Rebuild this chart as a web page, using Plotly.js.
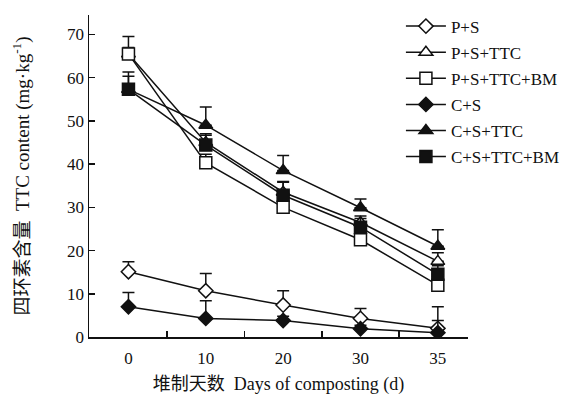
<!DOCTYPE html>
<html>
<head>
<meta charset="utf-8">
<script src="https://cdn.plot.ly/plotly-3.0.1.min.js"></script>
<style>html,body{margin:0;padding:0;background:#fff;}#chart{width:569px;height:407px;}</style>
</head>
<body>
<div id="chart"></div>
<script>
const days = ['0', '10', '20', '30', '35'];
const seriesNames = ['P+S', 'P+S+TTC', 'P+S+TTC+BM', 'C+S', 'C+S+TTC', 'C+S+TTC+BM'];
const ps = [15.1, 10.7, 7.4, 4.3, 2.0];
const psErr = [2.3, 4.0, 3.3, 2.3, 5.0];
const psTtc = [65.5, 45.0, 33.5, 26.5, 17.5];
const psTtcErr = [4.0, 2.0, 2.5, 1.5, 2.0];
const psTtcBm = [65.5, 40.3, 30.0, 22.5, 12.0];
const psTtcBmErr = [1.5, 2.0, 2.0, 1.5, 2.0];
const cs = [7.0, 4.3, 3.8, 1.9, 1.0];
const csErr = [3.3, 4.1, 1.0, 0.8, 2.8];
const csTtc = [57.3, 49.0, 38.5, 29.9, 21.0];
const csTtcErr = [4.0, 4.2, 3.5, 2.0, 3.8];
const csTtcBm = [57.3, 44.4, 32.8, 25.4, 14.5];
const csTtcBmErr = [3.0, 2.3, 3.0, 2.0, 2.0];

const values = [ps, psTtc, psTtcBm, cs, csTtc, csTtcBm];
const errs = [psErr, psTtcErr, psTtcBmErr, csErr, csTtcErr, csTtcBmErr];
const symbols = ['diamond', 'triangle-up', 'square', 'diamond', 'triangle-up', 'square'];
const fills = ['#ffffff', '#ffffff', '#ffffff', '#111111', '#111111', '#111111'];
const sizes = [11, 12, 12, 11, 12, 12];

const traces = values.map((v, i) => ({
  x: days,
  y: v,
  name: seriesNames[i],
  legendgroup: 'g' + i,
  type: 'scatter',
  mode: 'lines+markers',
  line: {color: '#111', width: 1.5},
  marker: {symbol: symbols[i], size: sizes[i], color: fills[i], line: {color: '#111', width: 1.5}},
  error_y: {type: 'data', array: errs[i], arrayminus: v.map(() => 0), symmetric: false,
            color: '#111', thickness: 1.5, width: 6}
}));

const fam = '"Liberation Serif", "Times New Roman", "Noto Sans CJK SC", serif';
const tickFont = {family: fam, size: 17, color: '#111'};
const titleFont = {family: fam, size: 18, color: '#111'};
const yTitleFont = {family: fam, size: 19, color: '#111'};

const layout = {
  width: 569, height: 407,
  margin: {l: 89, r: 101, t: 15, b: 70, autoexpand: false},
  paper_bgcolor: '#fff', plot_bgcolor: '#fff',
  font: tickFont,
  showlegend: true,
  legend: {x: 0.823, y: 1.02, xanchor: 'left', yanchor: 'top', bgcolor: 'rgba(0,0,0,0)',
           traceorder: 'grouped', tracegroupgap: 1, itemwidth: 40, font: tickFont},
  xaxis: {
    type: 'category', range: [-0.51, 4.39], tickson: 'boundaries',
    showline: true, linecolor: '#111', linewidth: 1.5, mirror: false,
    ticks: 'inside', ticklen: 6, tickwidth: 1.5, tickcolor: '#111',
    ticklabelstandoff: 5, automargin: false,
    showgrid: false, zeroline: false, tickfont: tickFont,
    title: {text: '堆制天数  Days of composting (d)', font: titleFont, standoff: 10}
  },
  yaxis: {
    range: [0, 74.5], dtick: 10, tick0: 0,
    showline: true, linecolor: '#111', linewidth: 1.5,
    ticks: 'inside', ticklen: 6, tickwidth: 1.5, tickcolor: '#111',
    automargin: false,
    showgrid: false, zeroline: false, tickfont: tickFont,
    title: {text: '四环素含量  TTC content (mg·kg<sup>-1</sup>)', font: yTitleFont, standoff: 32}
  }
};

Plotly.newPlot('chart', traces, layout, {displayModeBar: false, staticPlot: true});
</script>
</body>
</html>
